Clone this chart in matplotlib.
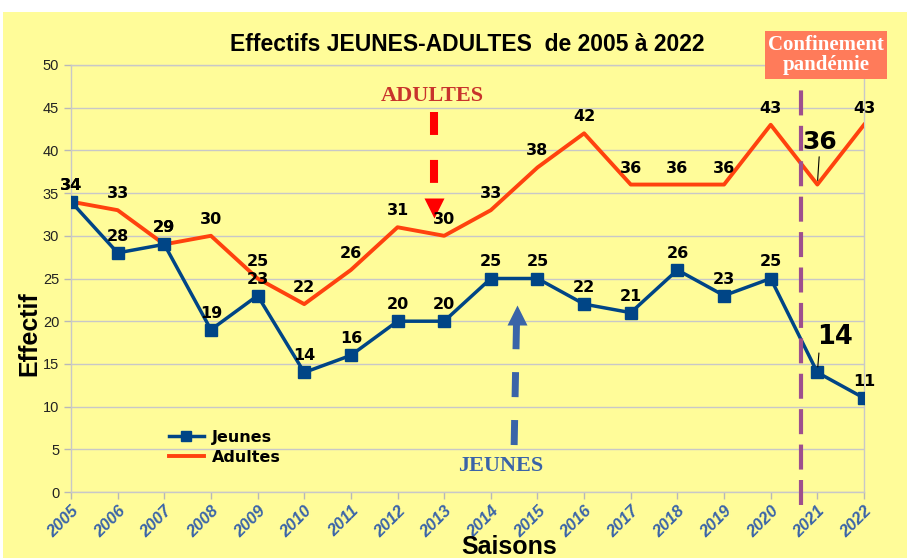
import matplotlib.pyplot as plt
from matplotlib.patches import Rectangle
from matplotlib import font_manager

# données
saisons = list(range(2005, 2023))
jeunes = [34, 28, 29, 19, 23, 14, 16, 20, 20, 25, 25, 22, 21, 26, 23, 25, 14, 11]
adultes = [34, 33, 29, 30, 25, 22, 26, 31, 30, 33, 38, 42, 36, 36, 36, 43, 36, 43]

c_jeunes = '#004586'
c_adultes = '#FF420E'
c_fond = '#FFFC99'
c_bleu = '#3A64A8'

# police du titre (étroite si dispo)
try:
    font_manager.findfont('Liberation Sans Narrow', fallback_to_default=False)
    titre_font, titre_size = 'Liberation Sans Narrow', 18
except Exception:
    titre_font, titre_size = 'Liberation Sans', 16.5

fig = plt.figure(figsize=(9.07, 5.58), dpi=100)
fig.patch.set_facecolor('white')
# fond jaune
fig.patches.append(Rectangle((3 / 907, 0), 1, 546 / 558, transform=fig.transFigure,
                             facecolor=c_fond, edgecolor='none', zorder=-10))

ax = fig.add_axes([71 / 907, 66 / 558, 793 / 907, 427 / 558])
ax.set_facecolor(c_fond)

ax.plot(saisons, jeunes, color=c_jeunes, lw=2.5, marker='s', ms=8.5, label='Jeunes', zorder=4)
ax.plot(saisons, adultes, color=c_adultes, lw=2.8, label='Adultes', zorder=3)

# étiquettes de valeurs
for x, y in zip(saisons, jeunes):
    if x == 2021:
        continue
    ax.annotate(str(y), (x, y), xytext=(0, 6.5), textcoords='offset points',
                ha='center', va='bottom', fontsize=11.5, fontweight='bold',
                family='DejaVu Sans', zorder=6)
for x, y in zip(saisons, adultes):
    if x == 2021:
        continue
    ax.annotate(str(y), (x, y), xytext=(0, 6.5), textcoords='offset points',
                ha='center', va='bottom', fontsize=11.5, fontweight='bold',
                family='DejaVu Sans', zorder=6)

# étiquettes 2021 agrandies
ax.annotate(str(adultes[16]), (2021, adultes[16]), xytext=(2, 22), textcoords='offset points',
            ha='center', va='bottom', fontsize=18, fontweight='bold', family='DejaVu Sans',
            arrowprops=dict(arrowstyle='-', color='black', lw=0.8, shrinkA=0, shrinkB=3), zorder=6)
ax.annotate(str(jeunes[16]), (2021, jeunes[16]), xytext=(0, 16), textcoords='offset points',
            ha='left', va='bottom', fontsize=18.5, fontweight='bold', family='DejaVu Sans',
            arrowprops=dict(arrowstyle='-', color='black', lw=0.8, shrinkA=0, shrinkB=4,
                            relpos=(0.05, 0.0)), zorder=6)

# ligne confinement
ax.plot([2020.65, 2020.65], [-1.5, 47.3], color='#9E4F8E', lw=3, dashes=(6, 2.5),
        clip_on=False, zorder=5)
fig.text(826 / 907, 1 - 55 / 558, 'Confinement\npandémie', ha='center', va='center',
         color='white', fontsize=15, fontweight='bold', family='Liberation Serif',
         linespacing=1.0,
         bbox=dict(boxstyle='square,pad=0.17', facecolor='#FF7B5A', edgecolor='none'))

# flèche ADULTES
ax.text(2012.75, 46.4, 'ADULTES', ha='center', va='center', color='#C8332C',
        fontsize=16, fontweight='bold', family='Liberation Serif')
ax.plot([2012.78, 2012.78], [44.5, 36.2], color='red', lw=5.8, dashes=(2.85, 3.1), zorder=5)
ax.plot([2012.78], [33.3], marker='v', color='red', ms=15, mec='none', zorder=5)

# flèche JEUNES
ax.text(2014.22, 3.1, 'JEUNES', ha='center', va='center', color=c_bleu,
        fontsize=16, fontweight='bold', family='Liberation Serif')
ax.plot([2014.5, 2014.55], [5.5, 19.6], color=c_bleu, lw=5, dashes=(3.6, 3.3), zorder=5)
ax.plot([2014.56], [20.7], marker='^', color=c_bleu, ms=15, mec='none', zorder=5)

# axes
ax.set_xlim(2005, 2022)
ax.set_ylim(0, 50)
ax.set_yticks(range(0, 51, 5))
ax.set_xticks(saisons)
ax.set_xticklabels([str(s) for s in saisons], rotation=45, ha='right', va='top',
                   rotation_mode='anchor', color=c_bleu, fontsize=12,
                   fontweight='bold', fontstyle='italic', family='Liberation Sans')
for lab in ax.get_yticklabels():
    lab.set_family('Liberation Sans')
    lab.set_fontsize(10.5)
    lab.set_color('#222222')
ax.tick_params(axis='both', colors='#B8B8B8', length=5, width=1)
ax.tick_params(axis='x', labelcolor=c_bleu, pad=3)
ax.tick_params(axis='y', labelcolor='#222222')
ax.grid(axis='y', color='#C8C8C8', lw=1)
ax.set_axisbelow(True)
for sp in ax.spines.values():
    sp.set_color('#C8C8C8')
    sp.set_linewidth(1)

ax.set_ylabel('Effectif', fontsize=18, fontweight='bold', family='Liberation Sans',
              va='center')
ax.yaxis.set_label_coords(-0.052, 0.37)
ax.set_xlabel('Saisons', fontsize=18, fontweight='bold', family='Liberation Sans',
              va='center')
ax.xaxis.set_label_coords(0.552, -0.128)
ax.set_title('Effectifs JEUNES-ADULTES  de 2005 à 2022', fontsize=titre_size, fontweight='bold',
             family=[titre_font, 'Liberation Sans'], pad=10)

leg = ax.legend(loc='lower left', bbox_to_anchor=(0.105, 0.03), frameon=False,
                prop={'family': 'DejaVu Sans', 'weight': 'bold', 'size': 11.5},
                handlelength=2.2, labelspacing=0.3, handletextpad=0.5)
for h in leg.legend_handles:
    h.set_markersize(7)

fig.savefig('out.png', dpi=100, facecolor=fig.get_facecolor())
